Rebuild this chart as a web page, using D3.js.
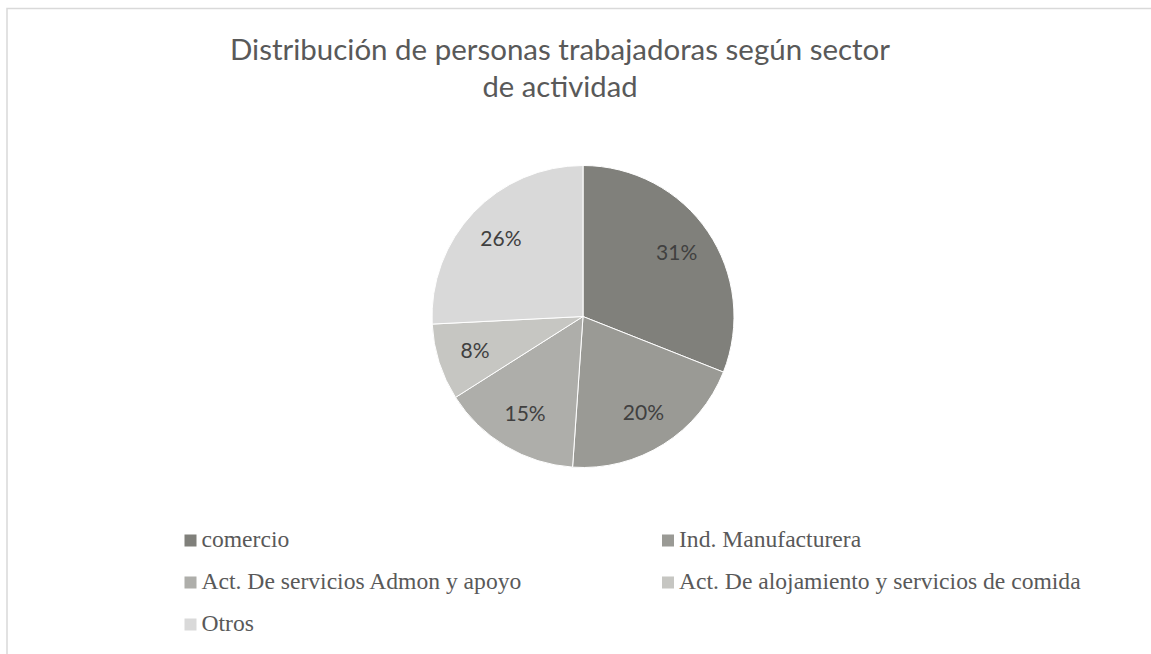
<!DOCTYPE html>
<html>
<head>
<meta charset="utf-8">
<script src="https://cdn.jsdelivr.net/npm/d3@7"></script>
<style>
  body { margin: 0; background: #fff; }
  svg { display: block; }
</style>
</head>
<body>
<div id="chart"></div>
<script>
// data (share of workers, %)
var sectors = [
  'comercio',
  'Ind. Manufacturera',
  'Act. De servicios Admon y apoyo',
  'Act. De alojamiento y servicios de comida',
  'Otros'
]
var shares = [31.0, 20.1, 14.9, 8.2, 25.8]
var titleLines = ['Distribución de personas trabajadoras según sector', 'de actividad']

var colors = ['#80807b', '#9a9a95', '#aeaeaa', '#c6c6c2', '#d9d9d9']

var width = 1151,
  height = 654,
  cx = 583,
  cy = 316.5,
  radius = 151

var data = sectors.map(function(s, i) {
  return { name: s, value: shares[i], color: colors[i] }
})
var total = d3.sum(shares)
var fmt = d3.format('.0%')

var svg = d3
  .select('#chart')
  .append('svg')
  .attr('width', width)
  .attr('height', height)

// chart border (frame runs off the right and bottom)
svg
  .append('rect')
  .attr('x', 7)
  .attr('y', 8.5)
  .attr('width', width + 20)
  .attr('height', height + 20)
  .attr('fill', 'none')
  .attr('stroke', '#d9d9d9')
  .attr('stroke-width', 1.5)

// title
svg
  .append('g')
  .selectAll('text')
  .data(titleLines)
  .enter()
  .append('text')
  .attr('x', 560)
  .attr('y', function(d, i) { return 60 + i * 37 })
  .attr('text-anchor', 'middle')
  .attr('textLength', function(d, i) { return i === 0 ? 660 : 155 })
  .attr('lengthAdjust', 'spacingAndGlyphs')
  .style('font-family', 'Lato, "Open Sans", sans-serif')
  .style('font-size', '28px')
  .style('fill', '#595959')
  .text(function(d) { return d })

// pie
var pie = d3.pie().sort(null).value(function(d) { return d.value })
var arc = d3.arc().innerRadius(0).outerRadius(radius)
var labelArc = d3.arc().innerRadius(radius * 0.75).outerRadius(radius * 0.75)

var g = svg.append('g').attr('transform', 'translate(' + cx + ',' + cy + ')')
var arcs = pie(data)

g.selectAll('path')
  .data(arcs)
  .enter()
  .append('path')
  .attr('d', arc)
  .attr('fill', function(d) { return d.data.color })
  .attr('stroke', '#fff')
  .attr('stroke-width', 1)

g.selectAll('text')
  .data(arcs)
  .enter()
  .append('text')
  .attr('transform', function(d) { return 'translate(' + labelArc.centroid(d) + ')' })
  .attr('text-anchor', 'middle')
  .attr('dy', '0.36em')
  .style('font-family', 'Lato, "Open Sans", sans-serif')
  .style('font-size', '21px')
  .style('fill', '#404040')
  .text(function(d) { return fmt(d.data.value / total) })

// legend, two columns
var colX = [184.5, 662],
  rowY = d3.scalePoint().domain([0, 1, 2]).range([534.5, 618.5])

var leg = svg
  .append('g')
  .selectAll('g')
  .data(data)
  .enter()
  .append('g')
  .attr('transform', function(d, i) {
    return 'translate(' + colX[i % 2] + ',' + rowY(Math.floor(i / 2)) + ')'
  })

leg
  .append('rect')
  .attr('width', 12)
  .attr('height', 12)
  .attr('fill', function(d) { return d.color })

leg
  .append('text')
  .attr('x', 17)
  .attr('y', 12)
  .style('font-family', '"Liberation Serif", "Times New Roman", serif')
  .style('font-size', '23.6px')
  .style('fill', '#595959')
  .text(function(d) { return d.name })
</script>
</body>
</html>
